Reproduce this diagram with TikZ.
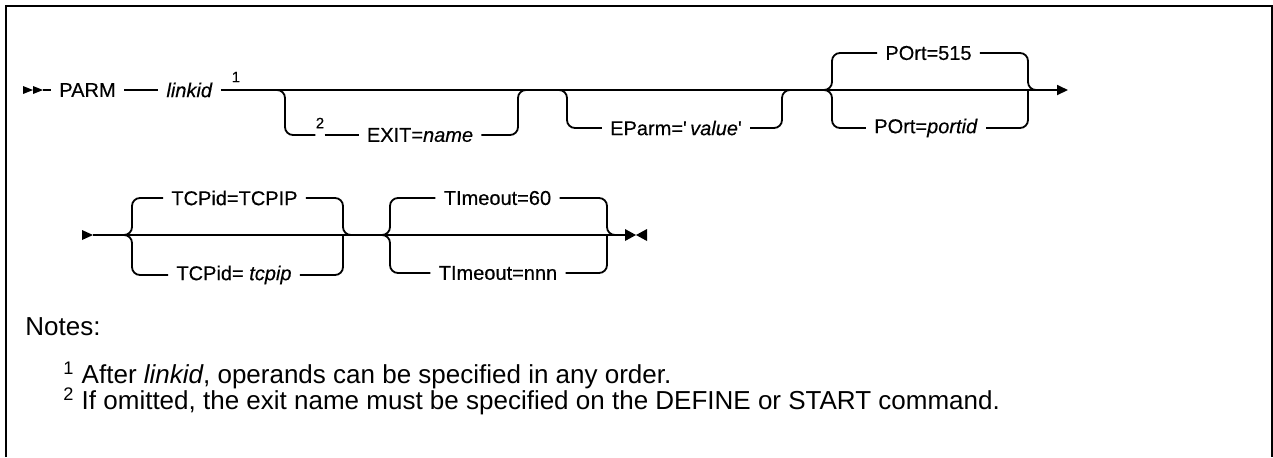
\documentclass[tikz,border=0pt]{standalone}
\usepackage{fontspec}
\setmainfont{Liberation Sans}
\newfontfamily\railfont{Liberation Sans}[FakeBold=0.35]
\usepackage{tikz}
\usetikzlibrary{arrows.meta,positioning}

\begin{document}
\begin{tikzpicture}[x=.5pt,y=-.5pt,font=\railfont\fontsize{10}{12}\selectfont,
  rail/.style={line width=.9pt,rounded corners=4pt},
  kw/.style={inner xsep=4pt,inner ysep=1pt},
  fnote/.style={inner sep=0pt,font=\railfont\fontsize{7.5}{9}\selectfont},
  notetext/.style={anchor=base west,inner sep=0pt,font=\normalfont\fontsize{13}{16}\selectfont}]
\useasboundingbox (0,0) rectangle (1273,457);
% frame
\draw[line width=1pt] (6,457)--(6,6)--(1272,6)--(1272,457);
% first line
\fill (23,86)--(33,90)--(23,94)--cycle; \fill (33,86)--(43,90)--(33,94)--cycle;
\coordinate (start1) at (43,90);
\node[kw] (parm) at (87.5,90){PARM};
\node[kw] (linkid) at (189.5,90){\textit{linkid}};
\node[fnote] (fn1) at (236,77){1};
\draw[rail] (start1)--(parm.west); \draw[rail] (parm.east)--(linkid.west);
\coordinate (end1) at (1068,90);
\draw[rail,-{Triangle[length=5.5pt,width=5pt]}] (linkid.east)--(end1);
% exit
\node[fnote] (fn2) at (320,123){2};
\node[kw] (exit) at (420,135){EXIT=\textit{name}};
\draw[rail] (277,90)-|(285,135)--(fn2.west|-exit); \draw[rail] (fn2.east|-exit)--(exit.west);
\draw[rail] (exit.east)-|(518,90)--(528,90);
% eparm
\node[kw] (eparm) at (676,128){EParm='\,\textit{value}'};
\draw[rail] (558,90)-|(567,128)--(eparm.west); \draw[rail] (eparm.east)-|(782,90)--(792,90);
% port
\node[kw] (port1) at (928.5,53){POrt=515};
\node[kw] (port2) at (926,128){POrt=\textit{portid}};
\draw[rail] (824,90)-|(832,53)--(port1.west); \draw[rail] (824,90)-|(832,128)--(port2.west);
\draw[rail] (port1.east)-|(1028,90)--(1036,90); \draw[rail] (port2.east)-|(1028,90);
% second line
\fill (82,230)--(93,235)--(82,240)--cycle;
\coordinate (start2) at (93,235); \coordinate (end2) at (625,235);
\draw[rail] (start2)--(end2);
\fill (625,229)--(636,235)--(625,241)--cycle; \fill (647,229)--(636,235)--(647,241)--cycle;
% tcpid
\node[kw] (tcp1) at (234.5,198){TCPid=TCPIP};
\node[kw] (tcp2) at (234,275){TCPid= \textit{tcpip}};
\draw[rail] (start2)-|(132,198)--(tcp1.west); \draw[rail] (start2)-|(132,275)--(tcp2.west);
\draw[rail] (tcp1.east)-|(343,235)--(351,235); \draw[rail] (tcp2.east)-|(343,235);
% timeout
\node[kw] (tim1) at (497.5,198){TImeout=60};
\node[kw] (tim2) at (498,273){TImeout=nnn};
\draw[rail] (382,235)-|(390,198)--(tim1.west); \draw[rail] (382,235)-|(390,273)--(tim2.west);
\draw[rail] (tim1.east)-|(607,235)--(615,235); \draw[rail] (tim2.east)-|(607,235);
% notes
\node[notetext] (notes) at (25,335){Notes:};
\node[notetext] (note1) at (63,383){\textsuperscript{1} After \textit{linkid}, operands can be specified in any order.};
\node[notetext] (note2) at (63,409){\textsuperscript{2} If omitted, the exit name must be specified on the DEFINE or START command.};
\end{tikzpicture}
\end{document}
